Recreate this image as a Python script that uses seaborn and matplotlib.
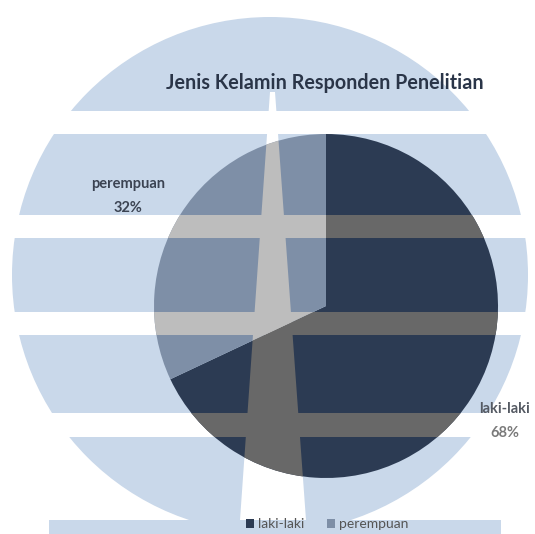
import numpy as np
import matplotlib
matplotlib.use("Agg")
import matplotlib.pyplot as plt
import matplotlib.patches as mpatches
import seaborn as sns

# ---- data ----
categories = ["laki-laki", "perempuan"]
percentages = [68, 32]
title = "Jenis Kelamin Responden Penelitian"

sns.set_theme(style="white")
plt.rcParams["font.family"] = ["Lato", "DejaVu Sans"]

W, H = 535, 534
fig = plt.figure(figsize=(W / 100, H / 100), dpi=100)
fig.patch.set_facecolor("white")

# ---- background watermark (decoration, figure pixel space) ----
ax_bg = fig.add_axes([0, 0, 1, 1], zorder=0)
ax_bg.set_xlim(0, W)
ax_bg.set_ylim(H, 0)
ax_bg.axis("off")

wm_blue = "#c9d8ea"
ax_bg.add_patch(mpatches.Circle((270, 275), 258, color=wm_blue, lw=0))
ax_bg.add_patch(mpatches.Rectangle((49, 520), 452, 20, color=wm_blue, lw=0))

bands = [(111, 134), (215, 238), (312, 335), (413, 437)]
vert = [(270, 92), (275, 92), (306, 520), (240, 520)]


def stripe_patches(color):
    ps = [mpatches.Rectangle((0, y0), W, y1 - y0, color=color, lw=0,
                             transform=ax_bg.transData) for y0, y1 in bands]
    ps.append(mpatches.Polygon(vert, closed=True, color=color, lw=0,
                               transform=ax_bg.transData))
    return ps


for p in stripe_patches("white"):
    ax_bg.add_artist(p)

# ---- pie ----
cx, cy, r = 326, 306, 172
ax = fig.add_axes([(cx - r) / W, (H - cy - r) / H, 2 * r / W, 2 * r / H], zorder=1)
ax.patch.set_alpha(0)

pal = ["#2c3b53", "#7e8fa7"]
overlay = ["#686868", "#bdbdbd"]
wedges, _ = ax.pie(percentages, colors=pal, startangle=90, counterclock=False,
                   radius=1, wedgeprops=dict(linewidth=0))
ax.set_xlim(-1, 1)
ax.set_ylim(-1, 1)
ax.set_aspect("auto")

for w, oc in zip(wedges, overlay):
    for p in stripe_patches(oc):
        p.set_clip_path(w)
        ax.add_artist(p)

# ---- labels ----
label_dist = [1.23, 1.36]
label_shift = [-0.01, -0.09]
label_cols = [("#555a63", "#7a7a7a"), ("#3b4352", "#3b4352")]
for w, cat, pct, d, s, (c1, c2) in zip(wedges, categories, percentages, label_dist,
                                       label_shift, label_cols):
    mid = np.deg2rad((w.theta1 + w.theta2) / 2)
    x, y = d * np.cos(mid), d * np.sin(mid) + s
    ax.text(x, y + 0.07, cat, ha="center", va="center", fontsize=10.5,
            fontweight="bold", color=c1)
    ax.text(x, y - 0.07, f"{pct}%", ha="center", va="center", fontsize=10.5,
            fontweight="bold", color=c2)

fig.text(325 / W, 1 - 83 / H, title, ha="center", va="center",
         fontsize=14.2, fontweight="bold", color="#2a3548")

leg = ax.legend(wedges, categories, loc="center", bbox_to_anchor=(327 / W, 1 - 524 / H),
                bbox_transform=fig.transFigure, ncol=2, frameon=False, fontsize=10,
                handlelength=0.6, handleheight=0.6, handletextpad=0.3, columnspacing=1.6,
                borderpad=0.1)
for t in leg.get_texts():
    t.set_color("#555555")

fig.savefig("out.png", dpi=100)
